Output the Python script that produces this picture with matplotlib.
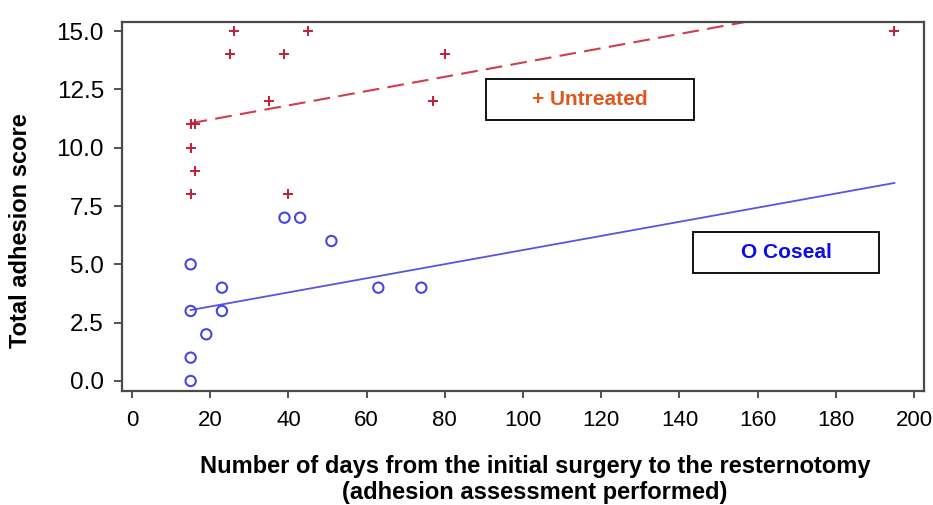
import numpy as np
import matplotlib
matplotlib.use("Agg")
import matplotlib.pyplot as plt
from matplotlib.patches import Rectangle

plt.rcParams['font.family'] = ['Liberation Sans', 'DejaVu Sans']

# untreated group (+)
untreated_days = [15, 15, 15, 16, 16, 25, 26, 35, 39, 40, 45, 77, 80, 195]
untreated_score = [8, 10, 11, 9, 11, 14, 15, 12, 14, 8, 15, 12, 14, 15]

# coseal group (o)
coseal_days = [15, 15, 15, 15, 19, 23, 23, 39, 43, 51, 63, 74]
coseal_score = [0, 1, 3, 5, 2, 3, 4, 7, 7, 6, 4, 4]

# fitted lines
fit_days = [15, 195]
untreated_fit = [11.05, 16.56]
coseal_fit = [3.04, 8.49]

W, H = 933, 505
fig = plt.figure(figsize=(W / 100, H / 100), dpi=100)
ax = fig.add_axes([122 / W, 1 - 391 / H, (924 - 122) / W, (391 - 22) / H])

red_mark = '#c41e3a'
blue_mark = '#4646e6'

ax.plot(fit_days, untreated_fit, color='#d23c4e', lw=1.5, dashes=(8, 4))
ax.plot(fit_days, coseal_fit, color='#5555e0', lw=1.3)
ax.scatter(untreated_days, untreated_score, marker='+', s=45,
           color=red_mark, linewidths=1.4, zorder=3)
ax.scatter(coseal_days, coseal_score, marker='o', s=55, facecolors='none',
           edgecolors=blue_mark, linewidths=1.5, zorder=3)

ax.set_xlim(-2.56, 202.56)
ax.set_ylim(-0.43, 15.39)
ax.set_xticks(np.arange(0, 201, 20))
ax.set_yticks(np.arange(0, 15.1, 2.5))
ax.set_yticklabels(['%.1f' % v for v in np.arange(0, 15.1, 2.5)])
ax.tick_params(axis='x', labelsize=16, length=5, width=1.2,
               color='#333333', pad=9)
ax.tick_params(axis='y', labelsize=17.5, length=6, width=1.2,
               color='#333333', pad=7)
for s in ax.spines.values():
    s.set_color('#4a4a4a')
    s.set_linewidth(1.6)

fig.text(21 / W, 1 - 231 / H, 'Total adhesion score', rotation=90,
         ha='center', va='center', fontsize=17, fontweight='bold')
fig.text(535 / W, 1 - 466 / H,
         'Number of days from the initial surgery to the resternotomy',
         ha='center', va='center', fontsize=17, fontweight='bold')
fig.text(535 / W, 1 - 492 / H, '(adhesion assessment performed)',
         ha='center', va='center', fontsize=17, fontweight='bold')


def label_box(x0, y0, x1, y1, txt, col):
    fig.patches.append(Rectangle((x0 / W, 1 - y1 / H), (x1 - x0) / W,
                                 (y1 - y0) / H, transform=fig.transFigure,
                                 fill=False, edgecolor='black', lw=1.3))
    fig.text((x0 + x1) / 2 / W, 1 - (y0 + y1) / 2 / H, txt, color=col,
             ha='center', va='center', fontsize=15, fontweight='bold')


label_box(486, 79, 694, 120, '+ Untreated', '#e0561c')
label_box(693, 232, 879, 273, 'O Coseal', '#0a0aee')

fig.savefig('out.png', dpi=100)
